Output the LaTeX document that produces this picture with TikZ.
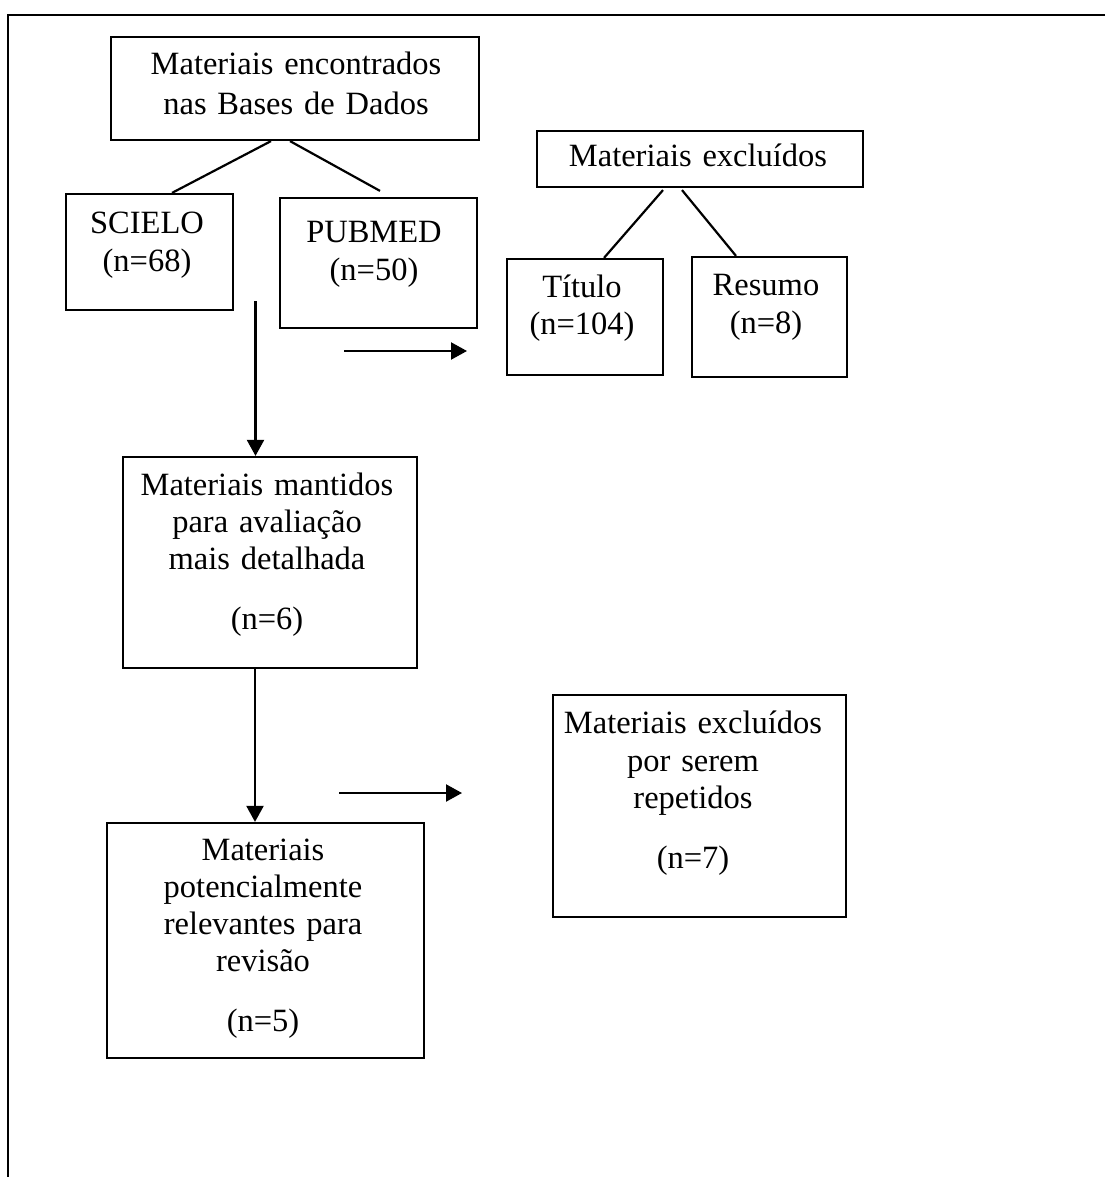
\documentclass[tikz,border=0pt]{standalone}
\usepackage{fontspec}
\setmainfont{Liberation Serif}
\usetikzlibrary{arrows.meta}
\begin{document}
\begin{tikzpicture}[x=1pt,y=-1pt,
  box/.style={draw=black, line width=2.2pt, minimum width=#1, inner sep=0pt},
  txt/.style={anchor=base, align=center, text width=400pt, inner sep=0pt,
    font=\fontsize{32.5}{37}\selectfont},
  conn/.style={line width=2.2pt, draw=black},
  arr/.style={line width=2.2pt, draw=black, -{Triangle[length=16pt,width=17pt]}}
]
\useasboundingbox (0,0) rectangle (1105,1177);
% frame
\draw[line width=2.4pt] (1105,15) -- (8,15) -- (8,1177);

% boxes  (center, width, height)
\node[box=368pt, minimum height=103pt] (A) at (295,88.5) {};
\node[box=167pt, minimum height=116pt] (SCI) at (149.5,252) {};
\node[box=197pt, minimum height=130pt] (PUB) at (378.5,263) {};
\node[box=326pt, minimum height=56pt] (EXC) at (700,159) {};
\node[box=156pt, minimum height=116pt] (TIT) at (585,317) {};
\node[box=155pt, minimum height=120pt] (RES) at (769.5,317) {};
\node[box=294pt, minimum height=211pt] (MAN) at (270,562.5) {};
\node[box=317pt, minimum height=235pt] (POT) at (265.5,940.5) {};
\node[box=293pt, minimum height=222pt] (REP) at (699.5,806) {};

% texts
\node[txt] (At) at (296,75) {Materiais encontrados\\[3pt]nas Bases de Dados};
\node[txt] (SCIt) at (147,233) {SCIELO\\[2pt](n=68)};
\node[txt] (PUBt) at (374,242) {PUBMED\\[1pt](n=50)};
\node[txt] (EXCt) at (698,167) {Materiais excluídos};
\node[txt] (TITt) at (582,297) {Título\\(n=104)};
\node[txt] (RESt) at (766,295) {Resumo\\[1pt](n=8)};
\node[txt] (MANt) at (267,495) {Materiais mantidos\\para avaliação\\mais detalhada\\[23pt](n=6)};
\node[txt] (POTt) at (263,860) {Materiais\\potencialmente\\relevantes para\\revisão\\[23pt](n=5)};
\node[txt] (REPt) at (693,733) {Materiais excluídos\\[1pt]por serem\\repetidos\\[23pt](n=7)};

% tree connectors
\draw[conn] ([xshift=-24pt]A.south) -- ([xshift=22.5pt]SCI.north);
\draw[conn] ([xshift=-5pt]A.south) -- ([xshift=1.5pt,yshift=6pt]PUB.north);
\draw[conn] ([xshift=-37pt,yshift=-2pt]EXC.south) -- ([xshift=19pt]TIT.north);
\draw[conn] ([xshift=-18pt,yshift=-2pt]EXC.south) -- ([xshift=-33.5pt]RES.north);

% arrows
\coordinate (v1) at (255.5,301);
\draw[arr] (v1) -- (v1 |- MAN.north);
\coordinate (h1a) at (344,351);
\coordinate (h1b) at (467,351);
\draw[arr] (h1a) -- (h1b);
\draw[arr] ([xshift=-15pt]MAN.south) -- ([xshift=-15pt]MAN.south |- POT.north);
\coordinate (h2a) at (339,793);
\coordinate (h2b) at (462,793);
\draw[arr] (h2a) -- (h2b);
\end{tikzpicture}
\end{document}
